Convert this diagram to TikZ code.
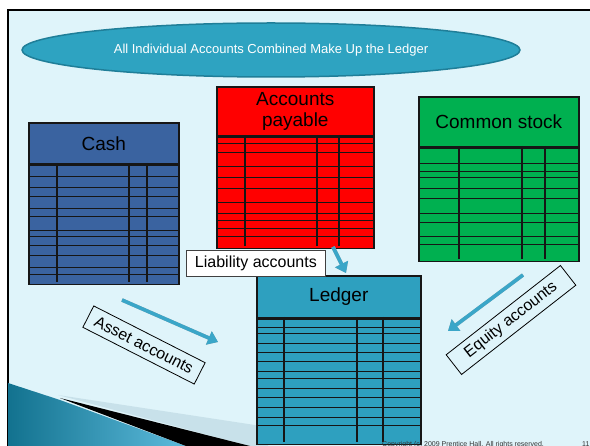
\documentclass[tikz,border=0pt]{standalone}
\usepackage{fontspec}
\setmainfont{Liberation Sans}
\usetikzlibrary{arrows.meta,shapes.geometric}

\definecolor{slidebg}{HTML}{DFF4FA}
\definecolor{cashblue}{HTML}{3A63A0}
\definecolor{payred}{HTML}{FF0000}
\definecolor{stockgreen}{HTML}{00B050}
\definecolor{ledgerteal}{HTML}{2EA0BF}
\definecolor{ovalfill}{HTML}{2EA3C1}
\definecolor{ovaledge}{HTML}{1F7E98}
\definecolor{arrowblue}{HTML}{3AA6C8}
\definecolor{edge}{HTML}{161616}
\definecolor{waveleft}{HTML}{12728F}
\definecolor{waveright}{HTML}{5DBBDC}
\definecolor{band}{HTML}{C3DDE6}

\tikzset{
  hdr/.style={draw=edge, line width=1.6pt, inner sep=0pt, anchor=north west,
    font=\fontsize{19}{21}\selectfont, text=black, align=center},
  tbody/.style={draw=edge, line width=1.6pt, inner sep=0pt, anchor=north west},
  rowline/.style={draw=edge, line width=0.9pt},
  colline/.style={draw=edge, line width=1.8pt},
  lbl/.style={draw=black!75, line width=0.8pt, fill=white, inner sep=2pt,
    font=\fontsize{16}{18}\selectfont},
  tag/.style={draw=black, line width=0.8pt, inner sep=2pt,
    font=\fontsize{16}{18}\selectfont},
  bigarrow/.style={draw=arrowblue, line width=3.6pt,
    -{Triangle[width=14pt,length=10pt]}},
  arrowshade/.style={draw=black!35, line width=3.6pt,
    -{Triangle[width=14pt,length=10pt]}},
}

\begin{document}
\begin{tikzpicture}[x=1pt,y=-1pt]
\useasboundingbox (0,0) rectangle (590,446);
\clip (0,0) rectangle (590,446);
\fill[white] (0,0) rectangle (590,446);

% slide frame
\draw[fill=slidebg, line width=1.5pt] (8,10) rectangle (610,470);

% swoosh in the lower left corner
\fill[band, opacity=0.8] (58,395) -- (268,427) -- (268,446) -- (250,446) -- cycle;
\shade[left color=waveleft, right color=waveright] (8,383) -- (60,400) -- (186,446) -- (8,446) -- cycle;
\fill[black] (60,398) -- (250,446) -- (186,446) -- cycle;

% title oval
\node[ellipse, draw=ovaledge, line width=1.5pt, fill=ovalfill,
  minimum width=498pt, minimum height=54pt, inner sep=0pt,
  text=white, font=\fontsize{13}{15}\selectfont] (title) at (271,50)
  {All Individual Accounts Combined Make Up the Ledger};

% Cash account
\node[hdr, fill=cashblue, minimum width=150pt, minimum height=41pt] (cash) at (28,122) {Cash};
\node[tbody, fill=cashblue, minimum width=150pt, minimum height=119pt] (cashbody) at (cash.south west) {};
\foreach \r in {176,187,196,208,216,230,236,245,255,267,274}
  \draw[rowline] (28,\r) -- (178,\r);
\foreach \c in {57,129,147}
  \draw[colline] (\c,163) -- (\c,282);

% Accounts payable account
\node[hdr, fill=payred, minimum width=157pt, minimum height=49pt] (pay) at (216,86) {Accounts\\payable};
\node[tbody, fill=payred, minimum width=157pt, minimum height=111pt] (paybody) at (pay.south west) {};
\foreach \r in {143,152,166,177,188,202,213,220,228,236}
  \draw[rowline] (216,\r) -- (373,\r);
\foreach \c in {245,317,339}
  \draw[colline] (\c,135) -- (\c,246);

% Common stock account
\node[hdr, fill=stockgreen, minimum width=160pt, minimum height=50pt] (stock) at (418,96) {Common stock};
\node[tbody, fill=stockgreen, minimum width=160pt, minimum height=113pt] (stockbody) at (stock.south west) {};
\foreach \r in {163,171,177,188,198,213,222,236,244}
  \draw[rowline] (418,\r) -- (578,\r);
\foreach \c in {459,522,545}
  \draw[colline] (\c,146) -- (\c,259);

% Ledger
\node[hdr, fill=ledgerteal, minimum width=164pt, minimum height=42pt] (ledger) at (256,275) {Ledger};
\node[tbody, fill=ledgerteal, minimum width=164pt, minimum height=125pt] (ledgerbody) at (ledger.south west) {};
\foreach \r in {327,333,343,352,361,371,378,388,397,407,417,425}
  \draw[rowline] (256,\r) -- (420,\r);
\foreach \c in {284,357,383}
  \draw[colline] (\c,317) -- (\c,442);

% labels
\node[lbl, minimum width=139pt, minimum height=26pt, anchor=north west] (liab) at (186,250) {Liability accounts};
\node[tag, rotate=-27, minimum width=125pt, minimum height=24pt] (asset) at (144,345) {Asset accounts};
\node[tag, rotate=38, minimum width=145pt, minimum height=25pt] (equity) at (511,320) {Equity accounts};

% arrows toward the ledger
\coordinate (liabfrom) at (333,247);
\coordinate (liabto) at (346,273);
\coordinate (assetfrom) at (122,300);
\coordinate (assetto) at (218,342);
\coordinate (equityfrom) at (523,275);
\coordinate (equityto) at (448,331);
\begin{scope}[shift={(1.2,1.5)}]
  \draw[arrowshade] (liabfrom) -- (liabto);
  \draw[arrowshade] (assetfrom) -- (assetto);
  \draw[arrowshade] (equityfrom) -- (equityto);
\end{scope}
\draw[bigarrow] (liabfrom) -- (liabto);
\draw[bigarrow] (assetfrom) -- (assetto);
\draw[bigarrow] (equityfrom) -- (equityto);

% footer
\node[anchor=base west, inner sep=0pt, font=\fontsize{7}{8}\selectfont, text=black!80] (copy) at (382,447)
  {Copyright (c) 2009 Prentice Hall. All rights reserved.};
\node[anchor=base west, inner sep=0pt, font=\fontsize{7}{8}\selectfont, text=black!80] (pageno) at (582,447) {11};
\end{tikzpicture}
\end{document}
